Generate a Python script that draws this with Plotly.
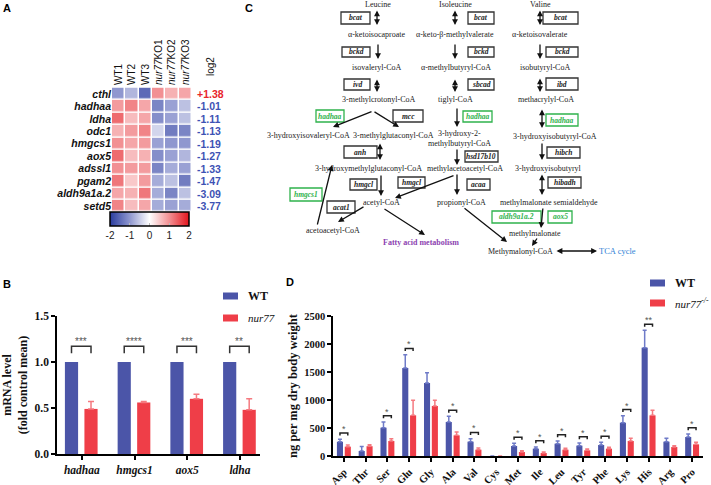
import plotly.graph_objects as go

W, H = 711, 485


def px(x):
    return x / W


def py(y):
    return 1 - y / H


# ---------------- Panel A data ----------------
genes = ["cthl", "hadhaa", "ldha", "odc1", "hmgcs1", "aox5", "adssl1", "pgam2", "aldh9a1a.2", "setd5"]
samples = ["WT1", "WT2", "WT3", "nur77KO1", "nur77KO2", "nur77KO3"]
sample_labels = ["WT1", "WT2", "WT3", "<i>nur77</i>KO1", "<i>nur77</i>KO2", "<i>nur77</i>KO3"]
zscores = [
    [-1.0, -0.7, -1.5, 1.0, 0.7, 0.8],
    [0.9, 1.1, 0.8, -1.2, -0.9, -0.6],
    [1.3, 0.6, 0.8, -1.1, -0.9, -0.6],
    [0.7, 0.9, 1.1, -0.4, -1.3, -1.2],
    [1.0, 0.8, 0.9, -0.9, -1.0, -1.0],
    [1.3, 0.6, 0.7, -1.1, -0.9, -0.7],
    [1.0, 0.9, 0.9, -1.2, -0.8, -0.9],
    [1.2, 0.5, 0.9, -0.8, -0.6, -1.3],
    [0.8, 0.7, 1.2, -0.8, -1.2, -0.6],
    [1.1, 0.6, 0.8, -0.8, -0.9, -0.8],
]
log2fc = [1.38, -1.01, -1.11, -1.13, -1.19, -1.27, -1.33, -1.47, -3.09, -3.77]

# ---------------- Panel B data ----------------
b_genes = ["hadhaa", "hmgcs1", "aox5", "ldha"]
b_wt = [1.0, 1.0, 1.0, 1.0]
b_ko = [0.49, 0.56, 0.60, 0.48]
b_ko_err = [0.08, 0.01, 0.05, 0.12]
b_sig = ["***", "****", "***", "**"]

# ---------------- Panel D data ----------------
aa = ["Asp", "Thr", "Ser", "Glu", "Gly", "Ala", "Val", "Cys", "Met", "Ile",
      "Leu", "Tyr", "Phe", "Lys", "His", "Arg", "Pro"]
d_wt = [255, 90, 506, 1571, 1304, 607, 256, 0, 179, 131, 220, 185, 196, 595, 1935, 256, 339]
d_wt_err = [45, 80, 101, 239, 184, 101, 54, 0, 47, 30, 48, 47, 48, 125, 309, 59, 54]
d_ko = [167, 175, 268, 726, 893, 369, 113, 0, 71, 54, 113, 101, 131, 268, 726, 161, 208]
d_ko_err = [29, 25, 42, 268, 101, 60, 30, 0, 24, 17, 24, 24, 24, 47, 89, 24, 36]
d_sig = ["*", "", "*", "*", "", "*", "*", "", "*", "*", "*", "*", "*", "*", "**", "", "*"]

BLUE = "#4b55a8"
RED = "#ef3e48"
BLUE_E = "#6f7bc8"
RED_E = "#f57a80"
SERIF = "Liberation Serif"
SANS = "Liberation Sans"

fig = go.Figure()

# ---------------- Panel A heatmap ----------------
fig.add_trace(go.Heatmap(
    z=zscores, x=samples, y=genes, zmin=-2, zmax=2,
    colorscale=[[0, "#2a3c9e"], [0.25, "#8f97cf"], [0.5, "#ffffff"], [0.75, "#f29093"], [1, "#e3141c"]],
    xgap=1.5, ygap=1.5, xaxis="x", yaxis="y",
    colorbar=dict(orientation="h", lenmode="pixels", len=79, thickness=14,
                  x=px(149.5), xanchor="center", y=py(212), yanchor="top", xpad=0, ypad=0,
                  outlinecolor="black", outlinewidth=1.5,
                  tickvals=[-2, -1, 0, 1, 2], ticktext=["-2", "-1", "0", "1", "2"],
                  ticks="inside", ticklen=3, tickcolor="#bbbbbb",
                  tickfont=dict(family=SANS, size=10, color="#222")),
    showscale=True, hoverinfo="skip",
))

# ---------------- Panel B bars ----------------
bx = list(range(len(b_genes)))
fig.add_trace(go.Bar(x=bx, y=b_wt, width=0.25, offset=-0.32, marker_color=BLUE, marker_line_width=0,
                     xaxis="x2", yaxis="y2", showlegend=False))
fig.add_trace(go.Bar(x=bx, y=b_ko, width=0.25, offset=0.05, marker_color=RED, marker_line_width=0,
                     error_y=dict(type="data", array=b_ko_err, arrayminus=[0] * len(b_ko),
                                  symmetric=False, color=RED_E, thickness=1.5, width=3),
                     xaxis="x2", yaxis="y2", showlegend=False))
bwc, bkc = -0.195, 0.175
bxs, bys = [], []
for i, g in enumerate(b_genes):
    top = max(b_wt[i], b_ko[i] + b_ko_err[i]) + 0.17
    bxs += [i + bwc, i + bwc, i + bkc, i + bkc, None]
    bys += [top - 0.075, top, top, top - 0.075, None]
    fig.add_annotation(x=i + (bwc + bkc) / 2, y=top, xref="x2", yref="y2", text=b_sig[i],
                       showarrow=False, xanchor="center", yanchor="bottom", yshift=-3,
                       font=dict(family=SANS, size=10, color="#555"))
fig.add_trace(go.Scatter(x=bxs, y=bys, mode="lines", line=dict(color="#333", width=1.5),
                         xaxis="x2", yaxis="y2", showlegend=False, hoverinfo="skip"))

# ---------------- Panel D bars ----------------
dx = list(range(len(aa)))
fig.add_trace(go.Bar(x=dx, y=d_wt, width=0.28, offset=-0.32, marker_color=BLUE, marker_line_width=0,
                     error_y=dict(type="data", array=d_wt_err, arrayminus=[0] * len(aa),
                                  symmetric=False, color=BLUE_E, thickness=1.5, width=2),
                     xaxis="x3", yaxis="y3", showlegend=False))
fig.add_trace(go.Bar(x=dx, y=d_ko, width=0.28, offset=0.04, marker_color=RED, marker_line_width=0,
                     error_y=dict(type="data", array=d_ko_err, arrayminus=[0] * len(aa),
                                  symmetric=False, color=RED_E, thickness=1.5, width=2),
                     xaxis="x3", yaxis="y3", showlegend=False))
dwc, dkc = -0.18, 0.18
dxs, dys = [], []
for i, s in enumerate(d_sig):
    if not s:
        continue
    top = max(d_wt[i] + d_wt_err[i], d_ko[i] + d_ko_err[i]) + 110
    dxs += [i + dwc, i + dwc, i + dkc, i + dkc, None]
    dys += [top - 45, top, top, top - 45, None]
    fig.add_annotation(x=i, y=top, xref="x3", yref="y3", text=s, showarrow=False,
                       xanchor="center", yanchor="bottom", yshift=-3,
                       font=dict(family=SANS, size=9, color="#555"))
fig.add_trace(go.Scatter(x=dxs, y=dys, mode="lines", line=dict(color="#222", width=1.5),
                         xaxis="x3", yaxis="y3", showlegend=False, hoverinfo="skip"))

axis_common = dict(showline=True, linecolor="black", linewidth=1.5, ticks="outside",
                   ticklen=4, tickwidth=1.5, tickcolor="black", showgrid=False, zeroline=False,
                   automargin=False)

fig.update_layout(
    template="none",
    width=W, height=H, margin=dict(l=0, r=0, t=0, b=0, pad=0, autoexpand=False),
    paper_bgcolor="white", plot_bgcolor="white", barmode="overlay",
    xaxis=dict(domain=[px(112), px(192)], anchor="y", side="top", tickangle=-90,
               ticks="", showline=False, showgrid=False, zeroline=False, automargin=False,
               tickmode="array", tickvals=samples, ticktext=sample_labels,
               tickfont=dict(family=SANS, size=10, color="#111")),
    yaxis=dict(domain=[py(214), py(86)], anchor="x", autorange="reversed",
               ticks="", showline=False, showgrid=False, zeroline=False, automargin=False,
               tickmode="array", tickvals=genes, ticktext=genes,
               tickfont=dict(family=SANS, size=10.5, color="#111", weight="bold", style="italic")),
    xaxis2=dict(domain=[px(57), px(260)], anchor="y2", range=[-0.47, 3.38],
                tickvals=bx, ticktext=b_genes,
                tickfont=dict(family=SERIF, size=11.5, color="#111", weight="bold", style="italic"),
                **axis_common),
    yaxis2=dict(domain=[py(454), py(316)], anchor="x2", range=[0, 1.5],
                tickvals=[0, 0.5, 1.0, 1.5], ticktext=["0.0", "0.5", "1.0", "1.5"],
                tickfont=dict(family=SERIF, size=11.5, color="#111", weight="bold"),
                title=dict(text="mRNA level<br>(fold control mean)", standoff=6,
                           font=dict(family=SERIF, size=12, color="#111", weight="bold")),
                **axis_common),
    xaxis3=dict(domain=[px(333), px(703)], anchor="y3", range=[-0.5, 16.5],
                tickvals=dx, ticktext=aa, tickangle=-45,
                tickfont=dict(family=SERIF, size=10.5, color="#111", weight="bold"),
                **axis_common),
    yaxis3=dict(domain=[py(456), py(316)], anchor="x3", range=[0, 2500],
                tickvals=[0, 500, 1000, 1500, 2000, 2500],
                tickfont=dict(family=SERIF, size=10.5, color="#111", weight="bold"),
                title=dict(text="ng per mg dry body weight", standoff=4,
                           font=dict(family=SERIF, size=12.5, color="#111", weight="bold")),
                **axis_common),
)


def label(x, y, text, font, xanchor="center", **kw):
    fig.add_annotation(x=px(x), y=py(y), xref="paper", yref="paper", text=text, showarrow=False,
                       xanchor=xanchor, yanchor="middle", font=font, **kw)


# log2 column
label(211, 67, "log2", dict(family=SANS, size=10, color="#111"), textangle=-90)
for g, v in zip(genes, log2fc):
    txt = f"+{v:.2f}" if v > 0 else f"{v:.2f}"
    col = "#e8262c" if v > 0 else "#3d52b4"
    fig.add_annotation(x=px(195), y=g, xref="paper", yref="y", text=txt, xanchor="left",
                       yanchor="middle", showarrow=False,
                       font=dict(family=SANS, size=10.5, color=col, weight="bold"))

# Panel letters
for lab, x, y in [("A", 7, 8), ("B", 7, 284), ("C", 249, 8), ("D", 290, 282)]:
    label(x, y, lab, dict(family=SANS, size=11, color="black", weight="bold"))


# Legends (B and D)
def legend_item(x0, yc, color, text, italic=False, bold=False, size=11):
    fig.add_shape(type="rect", xref="paper", yref="paper", x0=px(x0), x1=px(x0 + 15),
                  y0=py(yc + 3.5), y1=py(yc - 3.5), fillcolor=color, line=dict(width=0))
    label(x0 + 23, yc, text, dict(family=SERIF, size=size, color="#111",
                                   weight="bold" if bold else "normal",
                                   style="italic" if italic else "normal"), xanchor="left")


legend_item(223, 296, BLUE, "WT", bold=True, size=12)
legend_item(223, 318, RED, "nur77", italic=True, size=11)
legend_item(650, 283, BLUE, "WT", bold=True, size=12)
legend_item(650, 303, RED, "nur77<sup>-/-</sup>", italic=True, size=11)

# ---------------- Panel C pathway diagram ----------------
TXT = "#222"
GREEN = "#2fb24c"
texts = [
    (378, 5, "Leucine"), (455, 5, "Isoleucine"), (540, 5, "Valine"),
    (377, 35, "α-ketoisocaproate"), (455, 35, "α-keto-β-methylvalerate"), (540, 35, "α-ketoisovalerate"),
    (377, 68, "isovaleryl-CoA"), (456, 68, "α-methylbutyryl-CoA"), (545, 68, "isobutyryl-CoA"),
    (379, 100, "3-methylcrotonyl-CoA"), (455, 100, "tiglyl-CoA"), (546, 100, "methacrylyl-CoA"),
    (308, 135, "3-hydroxyisovaleryl-CoA"), (393, 135, "3-methylglutaconyl-CoA"),
    (459, 133, "3-hydroxy-2-"), (459, 143, "methylbutyryl-CoA"), (555, 136, "3-hydroxyisobutyryl-CoA"),
    (368, 168, "3-hydroxymethylglutaconyl-CoA"), (465, 168, "methylacetoacetyl-CoA"),
    (548, 168, "3-hydroxyisobutyryl"),
    (381, 202, "acetyl-CoA"), (462, 202, "propionyl-CoA"), (549, 202, "methylmalonate semialdehyde"),
    (333, 230, "acetoacetyl-CoA"), (535, 233, "methylmalonate"), (520, 251, "Methymalonyl-CoA"),
]
for x, y, t in texts:
    label(x, y, t, dict(family=SERIF, size=8, color=TXT))
label(421, 242, "<b>Fatty acid metabolism</b>", dict(family=SERIF, size=8, color="#8c3fb0"))
label(617, 251, "TCA cycle", dict(family=SERIF, size=8.5, color="#2f7fd6"))

boxes = [
    (341, 370, 12, 24, "bcat", False), (342, 370, 47, 57, "bckd", False), (344, 370, 79, 90, "ivd", False),
    (316, 344, 110, 122, "hadhaa", True), (393, 423, 110, 122, "mcc", False),
    (344, 377, 146, 158, "anh", False), (350, 377, 179, 190, "hmgcl", False),
    (290, 322, 188, 201, "hmgcs1", True), (327, 355, 201, 213, "acat1", False),
    (468, 494, 12, 24, "bcat", False), (468, 494, 47, 57, "bckd", False), (468, 494, 79, 90, "sbcad", False),
    (463, 492, 111, 122, "hadhaa", True), (465, 498, 151, 162, "hsd17b10", False),
    (398, 425, 177, 188, "hmgcl", False), (467, 490, 179, 190, "acaa", False),
    (543, 578, 12, 24, "bcat", False), (546, 578, 47, 57, "bckd", False), (546, 578, 78, 90, "ibd", False),
    (546, 578, 114, 126, "hadhaa", True), (547, 580, 147, 158, "hibch", False),
    (548, 581, 177, 188, "hibadh", False),
    (492, 541, 211, 223, "aldh9a1a.2", True), (548, 572, 211, 223, "aox5", True),
]
for x0, x1, y0, y1, t, green in boxes:
    col = GREEN if green else "#333"
    fig.add_shape(type="rect", xref="paper", yref="paper", x0=px(x0), x1=px(x1), y0=py(y1), y1=py(y0),
                  line=dict(color=col, width=1.3), fillcolor="white")
    label((x0 + x1) / 2, (y0 + y1) / 2, f"<b><i>{t}</i></b>",
          dict(family=SERIF, size=7.5, color=GREEN if green else "#222"))

arrows = [
    (377, 9, 377, 25, True), (378, 43, 378, 59, False), (377, 78, 377, 92, True),
    (373, 111, 333, 127, False), (373, 111, 399, 127, False), (380, 142, 380, 160, True),
    (381, 174, 381, 196, False), (365, 206, 338, 222, False), (317, 226, 332, 165, False),
    (383, 208, 425, 235, False),
    (455, 9, 455, 25, True), (455, 43, 455, 59, False), (455, 78, 455, 92, True),
    (457, 107, 457, 127, False), (457, 148, 457, 165, False), (457, 173, 457, 195, False),
    (455, 175, 395, 198, False), (463, 207, 507, 242, False),
    (540, 9, 540, 25, True), (540, 43, 540, 59, False), (540, 77, 540, 92, True),
    (542, 108, 542, 128, True), (542, 142, 542, 160, False), (542, 173, 542, 195, True),
    (543, 207, 541, 228, False), (538, 237, 532, 246, False), (555, 251, 597, 251, True),
]
for xt, yt, xh, yh, dbl in arrows:
    fig.add_annotation(x=px(xh), y=py(yh), xref="paper", yref="paper", ax=xt - xh, ay=yt - yh,
                       axref="pixel", ayref="pixel", text="", showarrow=True,
                       arrowhead=2, startarrowhead=2, arrowsize=0.9, startarrowsize=0.9,
                       arrowwidth=1.3, arrowcolor="#111",
                       arrowside="end+start" if dbl else "end", standoff=0, startstandoff=0)

fig.write_html("out.html", config={"displayModeBar": False},
               post_script="document.body.style.margin='0';document.body.style.overflow='hidden';")
